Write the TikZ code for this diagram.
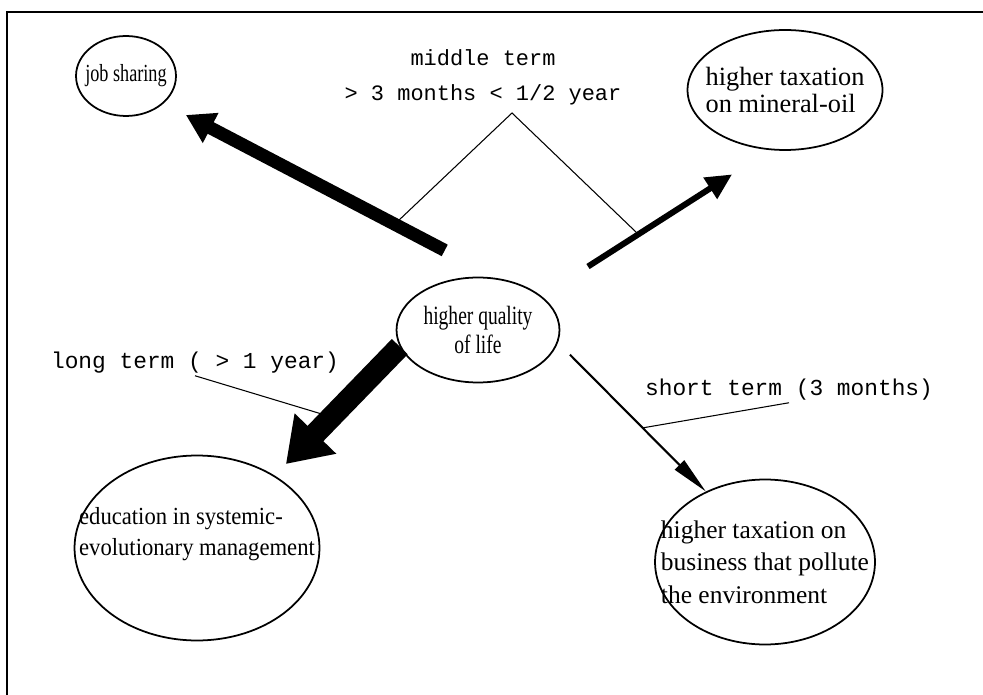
\documentclass[tikz,border=0pt]{standalone}
\usepackage{fontspec}
\setmainfont{Liberation Serif}
\setmonofont{Liberation Mono}
\newfontfamily\slimA[FakeStretch=0.74]{Liberation Serif}
\newfontfamily\slimC[FakeStretch=0.92]{Liberation Serif}
\usetikzlibrary{shapes.geometric, arrows.meta}

\begin{document}
\begin{tikzpicture}[x=0.02cm, y=-0.02cm, >=latex,  % 一个单位 = 原图一个像素
    bubble/.style={draw, ellipse, line width=1pt, inner sep=0pt},
    inside/.style={align=left},
    term/.style={inner sep=1pt, font=\ttfamily\fontsize{#1}{14}\selectfont},
    term/.default=13,
    lead/.style={line width=0.6pt}]
    \useasboundingbox (0, 0) rectangle (983, 695);
    \draw[line width=1pt] (7, 695)--(7, 12)--(983, 12);
    % 外框只有上边和左边

    \node[bubble, minimum width=3.26cm, minimum height=2.1cm,
        label={[inside, align=center, font=\slimA\fontsize{15}{17}\selectfont]center:{higher quality\\of life}}] (life) at (478, 330) {};
    \node[bubble, minimum width=2cm, minimum height=1.6cm,
        label={[inside, font=\slimA\fontsize{14}{17}\selectfont]center:{job sharing}}] (job) at (126, 76) {};
    \node[bubble, minimum width=3.9cm, minimum height=2.4cm,
        label={[inside, font=\fontsize{15}{15}\selectfont]center:{higher taxation\\on mineral-oil}}] (oil) at (785, 90) {};
    \node[bubble, minimum width=4.9cm, minimum height=3.7cm,
        label={[inside, font=\slimC\fontsize{14}{18}\selectfont, yshift=0.28cm]center:{education in systemic-\\evolutionary management}}] (edu) at (197, 548) {};
    \node[bubble, minimum width=4.4cm, minimum height=3.3cm,
        label={[inside, font=\fontsize{14.5}{18.5}\selectfont]center:{higher taxation on\\business that pollute\\the environment}}] (tax) at (765, 562) {};
    % label 放在 center,文字不会撑大椭圆

    \draw[-{Triangle[width=0.64cm, length=0.56cm]}, line width=0.26cm,
        shorten <=1.2cm, shorten >=0.5cm] (life.69)--(job.-36);
    \draw[-{Triangle[width=0.48cm, length=0.52cm]}, line width=0.12cm,
        shorten <=1.1cm, shorten >=0.9cm] (life.28)--(oil.-104);
    \draw[-{Triangle[width=1.1cm, length=0.85cm]}, line width=0.44cm,
        shorten >=0.32cm] (life.-168)--(edu.43);
    \draw[-{Triangle[width=0.26cm, length=0.75cm]}, line width=1.2pt,
        shorten <=0.34cm] (life.-9.5)--(tax.130.6);
    % 箭头越粗,时间越长

    \node[term=12.5] (midA) at (483, 58) {middle term};
    \node[term=12.5] (midB) at (483, 95) {> 3 months < 1/2 year};
    \node[term] (long) at (195, 363) {long term ( > 1 year)};
    \node[term] (short) at (789, 390) {short term (3 months)};

    \coordinate (apex) at (512, 113);
    \coordinate (mid-l) at (397, 222);
    \coordinate (mid-r) at (637, 233);
    \coordinate (long-end) at (325, 415);
    \coordinate (short-end) at (642, 428);
    \draw[lead] (mid-l)--(apex)--(mid-r);
    \draw[lead] (long.south)--(long-end);
    \draw[lead] (short.south)--(short-end);
\end{tikzpicture}
\end{document}
